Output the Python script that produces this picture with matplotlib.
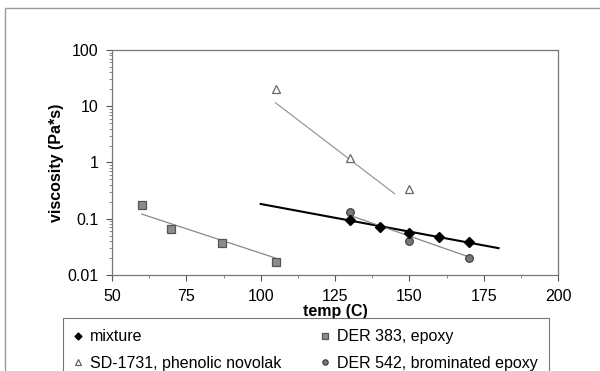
import matplotlib
matplotlib.use("Agg")
import matplotlib.pyplot as plt
from matplotlib.patches import Rectangle
from matplotlib.ticker import FuncFormatter, LogLocator, NullFormatter, MultipleLocator

plt.rcParams["font.family"] = ["Liberation Sans", "DejaVu Sans"]

# data
mix_t = [130, 140, 150, 160, 170]
mix_v = [0.095, 0.072, 0.055, 0.047, 0.038]
der383_t = [60, 70, 87, 105]
der383_v = [0.175, 0.066, 0.037, 0.017]
sd_t = [105, 130, 150]
sd_v = [20, 1.2, 0.34]
der542_t = [130, 150, 170]
der542_v = [0.13, 0.040, 0.020]

# trend line end points
mix_fit_t = [100, 180]
mix_fit_v = [0.183, 0.030]
der383_fit_t = [60, 105]
der383_fit_v = [0.121, 0.020]
sd_fit_t = [105, 145]
sd_fit_v = [11.5, 0.28]
der542_fit_t = [130, 170]
der542_fit_v = [0.115, 0.021]

xticks = [50, 75, 100, 125, 150, 175, 200]
yticks = [0.01, 0.1, 1, 10, 100]

fig = plt.figure(figsize=(6, 3.71), dpi=100)
ax = fig.add_axes([0.1867, 0.2588, 0.7433, 0.6064])

# outer frame of the original figure
fig.patches.append(Rectangle((5 / 600, -0.2), 1.0, 1.2 - 8 / 371,
                             transform=fig.transFigure, fill=False,
                             edgecolor="#999999", linewidth=1.0))

ax.plot(mix_fit_t, mix_fit_v, color="black", linewidth=1.5, zorder=2)
ax.plot(der383_fit_t, der383_fit_v, color="#888888", linewidth=0.9, zorder=2)
ax.plot(sd_fit_t, sd_fit_v, color="#999999", linewidth=0.9, zorder=2)
ax.plot(der542_fit_t, der542_fit_v, color="#888888", linewidth=0.9, zorder=2)

h_mix, = ax.plot(mix_t, mix_v, "D", color="black", markersize=5, linestyle="none",
                 label="mixture", zorder=4)
h_sd, = ax.plot(sd_t, sd_v, "^", markerfacecolor="white", markeredgecolor="#666666",
                markersize=6, markeredgewidth=0.9, linestyle="none",
                label="SD-1731, phenolic novolak", zorder=3)
h_383, = ax.plot(der383_t, der383_v, "s", markerfacecolor="#8c8c8c",
                 markeredgecolor="#555555", markersize=5.5, markeredgewidth=0.9,
                 linestyle="none", label="DER 383, epoxy", zorder=3)
h_542, = ax.plot(der542_t, der542_v, "o", markerfacecolor="#777777",
                 markeredgecolor="#444444", markersize=5.5, markeredgewidth=0.9,
                 linestyle="none", label="DER 542, brominated epoxy", zorder=3)

ax.set_yscale("log")
ax.set_xlim(50, 200)
ax.set_ylim(0.01, 100)
ax.set_xticks(xticks)
ax.xaxis.set_minor_locator(MultipleLocator(12.5))
ax.set_yticks(yticks)
ax.yaxis.set_major_formatter(FuncFormatter(lambda v, p: "%g" % v))
ax.yaxis.set_minor_locator(LogLocator(base=10, subs=range(2, 10)))
ax.yaxis.set_minor_formatter(NullFormatter())
ax.tick_params(axis="both", which="major", direction="out", length=4,
               width=0.8, color="#555555", labelsize=11.5, pad=6)
ax.tick_params(axis="both", which="minor", direction="out", length=2.5,
               width=0.6, color="#777777")

for s in ax.spines.values():
    s.set_color("#777777")
    s.set_linewidth(0.9)

ax.set_xlabel("temp (C)", fontsize=11.5, fontweight="bold", labelpad=0)
ax.set_ylabel("viscosity (Pa*s)", fontsize=11.5, fontweight="bold", labelpad=2)

leg = fig.legend(handles=[h_mix, h_sd, h_383, h_542], ncol=2, loc="upper left",
                 bbox_to_anchor=(63 / 600, 1 - 322 / 371, 486 / 600, 0.01),
                 mode="expand", borderaxespad=0, fontsize=11.5, frameon=True,
                 fancybox=False, edgecolor="#555555", handlelength=0.5,
                 handletextpad=0.5, markerscale=0.7, labelspacing=0.7,
                 borderpad=0.7)
leg.get_frame().set_linewidth(0.8)
leg.set_zorder(0)

fig.savefig("out.png", dpi=100)
